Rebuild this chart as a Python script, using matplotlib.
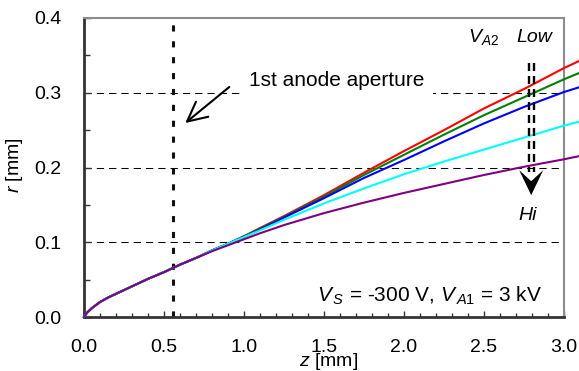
import numpy as np
import matplotlib
matplotlib.use("Agg")
import matplotlib.pyplot as plt
from matplotlib.patches import Polygon
from matplotlib.transforms import ScaledTranslation

plt.rcParams['font.family'] = ['Liberation Sans', 'DejaVu Sans']
plt.rcParams['mathtext.fontset'] = 'custom'
plt.rcParams['mathtext.rm'] = 'Liberation Sans'
plt.rcParams['mathtext.it'] = 'Liberation Sans:italic'

# Beam envelope r(z) for several V_A2 values
z_mm = [0, 0.02, 0.05, 0.1, 0.15, 0.2, 0.3, 0.4, 0.5, 0.6, 0.7, 0.8, 0.9,
        1.0, 1.1, 1.25, 1.5, 1.75, 2.0, 2.25, 2.5, 2.75, 3.0, 3.09]
r_start = [0, 0.006, 0.012, 0.020, 0.026, 0.031, 0.041, 0.051, 0.060, 0.070, 0.079, 0.089, 0.098]
r_red = r_start + [0.108, 0.119, 0.135, 0.163, 0.193, 0.222, 0.250, 0.279, 0.305, 0.333, 0.342]
r_green = r_start + [0.108, 0.118, 0.134, 0.161, 0.190, 0.217, 0.244, 0.270, 0.294, 0.318, 0.326]
r_blue = r_start + [0.107, 0.117, 0.133, 0.159, 0.186, 0.210, 0.235, 0.259, 0.281, 0.301, 0.307]
r_cyan = r_start + [0.107, 0.116, 0.130, 0.152, 0.172, 0.191, 0.208, 0.224, 0.240, 0.256, 0.261]
r_purple = r_start[:-2] + [0.088, 0.096, 0.104, 0.112, 0.123, 0.139, 0.153, 0.166,
                           0.178, 0.190, 0.201, 0.211, 0.215]

curves = [(r_red, '#ff0000'), (r_green, '#008000'), (r_blue, '#0000ff'),
          (r_cyan, '#00ffff'), (r_purple, '#800080')]

aperture_z = 0.555
grid_levels = [0.1, 0.2, 0.3]
va2_z = 2.795
va2_top, va2_tip = 0.340, 0.163

fig = plt.figure(figsize=(5.79, 3.71), dpi=100)
ax = fig.add_axes([84 / 579, 54 / 371, 480 / 579, 299 / 371])

for lvl in grid_levels:
    ax.axhline(lvl, color='black', lw=0.75, ls=(0, (7, 4.8)), zorder=1)

ax.axvline(aperture_z, color='#111111', lw=2.2, ls=(0, (2.0, 3.2)), zorder=2)

for r, c in curves:
    ax.plot(z_mm, r, color=c, lw=1.5, zorder=3, clip_on=False)

# V_A2 low -> hi arrow: double dashed shaft + notched head (head size in inches)
for dx in (-0.016, 0.016):
    ax.plot([va2_z + dx, va2_z + dx], [va2_top, va2_tip + 0.031], color='black',
            lw=1.7, ls=(0, (3.4, 2.1)), zorder=4)
head_tr = fig.dpi_scale_trans + ScaledTranslation(va2_z, va2_tip, ax.transData)
ax.add_patch(Polygon([(0, 0), (-0.12, 0.25), (0, 0.14), (0.12, 0.25)],
                     closed=True, facecolor='black', edgecolor='none',
                     transform=head_tr, zorder=5))

ax.text(2.399, 0.368, '$V_{A2}$', fontsize=14, va='baseline', ha='left')
ax.text(2.70, 0.368, 'Low', fontsize=14, style='italic', va='baseline', ha='left')
ax.text(2.77, 0.130, 'Hi', fontsize=14, style='italic', va='baseline', ha='center')

ax.text(1.033, 0.309, '1st anode aperture', fontsize=15, va='baseline', ha='left',
        zorder=6, bbox=dict(facecolor='white', edgecolor='none', pad=6))
ax.annotate('', xy=(0.633, 0.2595), xytext=(0.908, 0.3077),
            arrowprops=dict(arrowstyle='->,head_length=0.7,head_width=0.35',
                            color='black', lw=1.5, mutation_scale=20,
                            shrinkA=0, shrinkB=0), zorder=7)

ax.text(2.86, 0.020, r'$V_{\,S}$ = -300 V, $V_{\,A1}$ = 3 kV', fontsize=15,
        va='baseline', ha='right')

ax.set_xlim(0, 3.0)
ax.set_ylim(0, 0.4)
ax.set_xticks(np.arange(0, 3.01, 0.5))
ax.set_xticks(np.arange(0, 3.01, 0.1), minor=True)
ax.set_yticks(np.arange(0, 0.41, 0.1))
ax.set_yticks(np.arange(0, 0.41, 0.05), minor=True)
ax.xaxis.set_major_formatter(plt.FormatStrFormatter('%.1f'))
ax.yaxis.set_major_formatter(plt.FormatStrFormatter('%.1f'))
ax.tick_params(which='both', direction='in', labelsize=14, color='#333333',
               width=1, top=False, right=False)
ax.tick_params(axis='x', which='major', length=4.2, pad=16)
ax.tick_params(axis='x', which='minor', length=3.2)
ax.tick_params(axis='y', which='major', length=5, pad=16)
ax.tick_params(axis='y', which='minor', length=4.5)

for s in ('left', 'bottom'):
    ax.spines[s].set_color('#333333')
    ax.spines[s].set_linewidth(2)
for s in ('top', 'right'):
    ax.spines[s].set_color('#8c8c8c')
    ax.spines[s].set_linewidth(1.5)

ax.set_xlabel('$z$ [mm]', fontsize=14)
ax.set_ylabel('$r$ [mm]', fontsize=14)
ax.xaxis.set_label_coords(0.51, -0.15)
ax.yaxis.set_label_coords(-0.144, 0.508)
ax.xaxis.label.set_va('center')
ax.yaxis.label.set_va('center')

fig.savefig('out.png', dpi=100)
